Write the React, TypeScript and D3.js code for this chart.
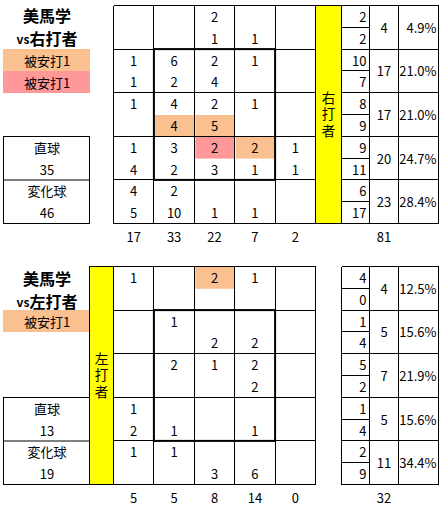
import React from 'react';
import * as d3 from 'd3';

const W = 446;
const H = 506;

const pitcher = '美馬学';
const pitchTypes = ['直球', '変化球'];
const legendLabels = ['被安打1', '被安打1'];

// Right-handed batters
const rhTop: (number | null)[][] = [
  [null, null, 2, null, null],
  [1, 6, 2, 1, null],
  [1, 4, 2, 1, null],
  [1, 3, 2, 2, 1],
  [4, 2, null, null, null],
];
const rhBottom: (number | null)[][] = [
  [null, null, 1, 1, null],
  [1, 2, 4, null, null],
  [null, 4, 5, null, null],
  [4, 2, 3, 1, 1],
  [5, 10, 1, 1, null],
];
const rhColTotals = [17, 33, 22, 7, 2];
const rhRowTop = [2, 10, 8, 9, 6];
const rhRowBottom = [2, 7, 9, 11, 17];
const rhRowTotals = [4, 17, 17, 20, 23];
const rhRowPct = ['4.9%', '21.0%', '21.0%', '24.7%', '28.4%'];
const rhGrand = 81;
const rhPitchCounts = [35, 46];
const rhHits = [
  { row: 2, col: 1, half: 1, kind: 0 },
  { row: 2, col: 2, half: 1, kind: 0 },
  { row: 3, col: 2, half: 0, kind: 1 },
  { row: 3, col: 3, half: 0, kind: 0 },
];

// Left-handed batters
const lhTop: (number | null)[][] = [
  [1, null, 2, 1, null],
  [null, 1, null, null, null],
  [null, 2, 1, 2, null],
  [1, null, null, null, null],
  [1, 1, null, null, null],
];
const lhBottom: (number | null)[][] = [
  [null, null, null, null, null],
  [null, null, 2, 2, null],
  [null, null, null, 2, null],
  [2, 1, null, 1, null],
  [null, null, 3, 6, null],
];
const lhColTotals = [5, 5, 8, 14, 0];
const lhRowTop = [4, 1, 5, 1, 2];
const lhRowBottom = [0, 4, 2, 4, 9];
const lhRowTotals = [4, 5, 7, 5, 11];
const lhRowPct = ['12.5%', '15.6%', '21.9%', '15.6%', '34.4%'];
const lhGrand = 32;
const lhPitchCounts = [13, 19];
const lhHits = [{ row: 0, col: 2, half: 0, kind: 0 }];

const hitColors = ['#FAC090', '#FF9999'];
const FONT = "'Noto Sans CJK JP', 'Noto Sans', sans-serif";

interface SectionProps {
  y0: number;
  y1: number;
  side: string;
  batterLabel: string;
  top: (number | null)[][];
  bottom: (number | null)[][];
  colTotals: number[];
  rowTop: number[];
  rowBottom: number[];
  rowTotals: number[];
  rowPct: string[];
  grand: number;
  pitchCounts: number[];
  hits: { row: number; col: number; half: number; kind: number }[];
  yellow: [number, number];
  legendCount: number;
  titleY: number;
  legendY: number;
  pitchY0: number;
}

function Section(p: SectionProps) {
  const gx = d3.scaleLinear().domain([0, 5]).range([113.5, 315.5]);
  const gy = d3.scaleLinear().domain([0, 5]).range([p.y0, p.y1]);
  const rows = d3.range(5);
  const cols = d3.range(5);
  const subX0 = 341.5;
  const subX1 = 369.5;
  const totX1 = 398.5;
  const pctX1 = 438.5;
  const textProps = { fontFamily: FONT, fontSize: 13, fill: '#000', dominantBaseline: 'central' as const };

  const pitchY = d3.scaleLinear().domain([0, 2]).range([p.pitchY0, p.y1]);

  return (
    <g>
      {/* title */}
      <text x={47} y={p.titleY} textAnchor="middle" fontFamily={FONT} fontWeight="bold" fontSize={16} dominantBaseline="central">{pitcher}</text>
      <text x={47} y={p.titleY + 23} textAnchor="middle" fontFamily={FONT} fontWeight="bold" dominantBaseline="central">
        <tspan fontSize={12}>vs</tspan>
        <tspan fontSize={16}>{p.side}</tspan>
      </text>
      {/* legend */}
      {d3.range(p.legendCount).map((i) => (
        <g key={i}>
          <rect x={3} y={p.legendY + i * 22} width={87} height={22} fill={hitColors[i]} />
          <text x={47} y={p.legendY + i * 22 + 11} textAnchor="middle" {...textProps}>{legendLabels[i]}</text>
        </g>
      ))}
      {/* pitch types box */}
      <rect x={3.5} y={pitchY(0)} width={86} height={pitchY(2) - pitchY(0)} fill="none" stroke="#000" />
      <line x1={3.5} x2={89.5} y1={pitchY(1)} y2={pitchY(1)} stroke="#000" />
      {pitchTypes.map((t, i) => (
        <g key={t}>
          <text x={47} y={pitchY(i + 0.25)} textAnchor="middle" {...textProps}>{t}</text>
          <text x={47} y={pitchY(i + 0.75)} textAnchor="middle" {...textProps}>{p.pitchCounts[i]}</text>
        </g>
      ))}
      {/* yellow batter column */}
      <rect x={p.yellow[0]} y={p.y0} width={p.yellow[1] - p.yellow[0]} height={p.y1 - p.y0} fill="#FFFF00" stroke="#000" />
      <text x={(p.yellow[0] + p.yellow[1]) / 2} y={(p.y0 + p.y1) / 2 + 1}
        textAnchor="middle" fontFamily={FONT} fontSize={13.5} letterSpacing={3}
        style={{ writingMode: 'vertical-rl' }}>{p.batterLabel}</text>
      {/* hit highlights */}
      {p.hits.map((h, i) => (
        <rect key={i} x={gx(h.col) + 1} y={gy(h.row + h.half * 0.5) + 0.5} width={gx(h.col + 1) - gx(h.col) - 1}
          height={gy(h.row + 0.5) - gy(h.row)} fill={hitColors[h.kind]} />
      ))}
      {/* grid */}
      <g stroke="#000" shapeRendering="crispEdges">
        {d3.range(6).map((c) => (
          <line key={'v' + c} x1={gx(c)} x2={gx(c)} y1={p.y0} y2={p.y1} />
        ))}
        {d3.range(6).map((r) => (
          <line key={'h' + r} x1={gx(0)} x2={gx(5)} y1={gy(r)} y2={gy(r)} />
        ))}
        {/* right table */}
        {[subX0, subX1, totX1, pctX1].map((x, i) => (
          <line key={'rv' + i} x1={x} x2={x} y1={p.y0} y2={p.y1} />
        ))}
        {d3.range(6).map((r) => (
          <line key={'rh' + r} x1={subX0} x2={pctX1} y1={gy(r)} y2={gy(r)} />
        ))}
        {rows.map((r) => (
          <line key={'rs' + r} x1={subX0} x2={subX1} y1={gy(r + 0.5)} y2={gy(r + 0.5)} />
        ))}
      </g>
      {/* strike zone */}
      <rect x={gx(1)} y={gy(1)} width={gx(4) - gx(1)} height={gy(4) - gy(1)} fill="none" stroke="#000" strokeWidth={2} />
      {/* cell values */}
      {rows.map((r) =>
        cols.map((c) => (
          <g key={r + '-' + c}>
            {p.top[r][c] != null && (
              <text x={(gx(c) + gx(c + 1)) / 2} y={gy(r + 0.25)} textAnchor="middle" {...textProps}>{p.top[r][c]}</text>
            )}
            {p.bottom[r][c] != null && (
              <text x={(gx(c) + gx(c + 1)) / 2} y={gy(r + 0.75)} textAnchor="middle" {...textProps}>{p.bottom[r][c]}</text>
            )}
          </g>
        ))
      )}
      {/* right table values */}
      {rows.map((r) => (
        <g key={'rt' + r}>
          <text x={subX1 - 3} y={gy(r + 0.25)} textAnchor="end" {...textProps}>{p.rowTop[r]}</text>
          <text x={subX1 - 3} y={gy(r + 0.75)} textAnchor="end" {...textProps}>{p.rowBottom[r]}</text>
          <text x={(subX1 + totX1) / 2} y={gy(r + 0.5)} textAnchor="middle" {...textProps}>{p.rowTotals[r]}</text>
          <text x={pctX1 - 2} y={gy(r + 0.5)} textAnchor="end" {...textProps}>{p.rowPct[r]}</text>
        </g>
      ))}
      {/* column totals */}
      {cols.map((c) => (
        <text key={'ct' + c} x={(gx(c) + gx(c + 1)) / 2} y={p.y1 + 13} textAnchor="middle" {...textProps}>{p.colTotals[c]}</text>
      ))}
      <text x={(subX1 + totX1) / 2} y={p.y1 + 13} textAnchor="middle" {...textProps}>{p.grand}</text>
    </g>
  );
}

export default function App() {
  return (
    <svg width={W} height={H} style={{ position: 'absolute', left: 0, top: 0, background: '#fff' }}>
      <rect width={W} height={H} fill="#fff" />
      <Section y0={5.5} y1={223.5} side="右打者" batterLabel="右打者" top={rhTop} bottom={rhBottom}
        colTotals={rhColTotals} rowTop={rhRowTop} rowBottom={rhRowBottom} rowTotals={rhRowTotals}
        rowPct={rhRowPct} grand={rhGrand} pitchCounts={rhPitchCounts} hits={rhHits}
        yellow={[315.5, 341.5]} legendCount={2} titleY={15} legendY={49} pitchY0={136.5} />
      <Section y0={266.5} y1={484.5} side="左打者" batterLabel="左打者" top={lhTop} bottom={lhBottom}
        colTotals={lhColTotals} rowTop={lhRowTop} rowBottom={lhRowBottom} rowTotals={lhRowTotals}
        rowPct={lhRowPct} grand={lhGrand} pitchCounts={lhPitchCounts} hits={lhHits}
        yellow={[89.5, 113.5]} legendCount={1} titleY={278} legendY={310} pitchY0={397.5} />
    </svg>
  );
}
